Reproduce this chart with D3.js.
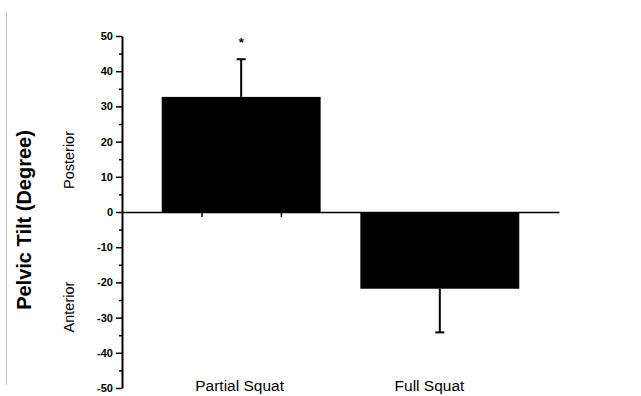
<!DOCTYPE html>
<html><head><meta charset="utf-8">
<script src="https://cdn.jsdelivr.net/npm/d3@7/dist/d3.min.js"></script>
<style>body{margin:0;background:#fff}svg{display:block}</style>
</head><body>
<script>
const categories = ["Partial Squat", "Full Squat"];
const means = [32.7, -21.8];
const errors = [10.7, 12.4];
const significance = ["*", ""];
const yTicks = [-50, -40, -30, -20, -10, 0, 10, 20, 30, 40, 50];
const xTickValues = [1, 2];
const barCenters = [1.5, 4.0];
const labelCenters = [1.48, 3.87];

const W = 641, H = 396;
const svg = d3.select("body").append("svg").attr("width", W).attr("height", H);
const font = "Liberation Sans, Arial, sans-serif";

const x = d3.scaleLinear().domain([0, 5.5]).range([122, 559]);
const y = d3.scaleLinear().domain([-50, 50]).range([388, 36]);
const barW = x(2) - x(0);

// left grey border line
svg.append("line").attr("x1", 6.5).attr("x2", 6.5).attr("y1", 12).attr("y2", 385)
  .attr("stroke", "#c8c8c8").attr("stroke-width", 1);

// bars
svg.selectAll("rect.bar").data(means).join("rect")
  .attr("x", (d, i) => x(barCenters[i]) - barW / 2)
  .attr("width", barW)
  .attr("y", d => Math.min(y(d), y(0)))
  .attr("height", d => Math.abs(y(d) - y(0)))
  .attr("fill", "#000");

// error bars
means.forEach((m, i) => {
  const cx = x(barCenters[i]);
  const end = m + Math.sign(m) * errors[i];
  svg.append("line").attr("x1", cx).attr("x2", cx).attr("y1", y(m)).attr("y2", y(end))
    .attr("stroke", "#000").attr("stroke-width", 2);
  svg.append("line").attr("x1", cx - 4.5).attr("x2", cx + 4.5).attr("y1", y(end)).attr("y2", y(end))
    .attr("stroke", "#000").attr("stroke-width", 2);
  if (significance[i]) {
    svg.append("text").attr("x", cx).attr("y", y(end) - 12)
      .attr("text-anchor", "middle").attr("font-family", font).attr("font-size", 13)
      .attr("font-weight", "bold").text(significance[i]);
  }
});

// y axis minor ticks
const minor = d3.range(-45, 50, 10);
svg.append("g").attr("transform", "translate(122,0)")
  .call(d3.axisLeft(y).tickValues(minor).tickSize(3).tickFormat(""))
  .call(g => g.select(".domain").remove())
  .selectAll("line").attr("stroke-width", 1.5);

// y axis
const yAxis = svg.append("g").attr("transform", "translate(122,0)")
  .call(d3.axisLeft(y).tickValues(yTicks).tickSize(6).tickSizeOuter(0).tickPadding(3)
    .tickFormat(d => String(d)));
yAxis.select(".domain").attr("stroke-width", 2);
yAxis.selectAll(".tick line").attr("stroke-width", 1.5);
yAxis.selectAll("text").attr("font-family", font).attr("font-size", 11)
  .attr("font-weight", "bold").attr("fill", "#000");

// zero line with x ticks
const xAxis = svg.append("g").attr("transform", `translate(0,${y(0)})`)
  .call(d3.axisBottom(x).tickValues(xTickValues).tickSize(5).tickSizeOuter(0).tickFormat(""));
xAxis.select(".domain").attr("stroke-width", 1.5);
xAxis.selectAll(".tick line").attr("stroke-width", 1.5);

// category labels
svg.selectAll("text.cat").data(categories).join("text")
  .attr("x", (d, i) => x(labelCenters[i])).attr("y", 391)
  .attr("text-anchor", "middle").attr("font-family", font).attr("font-size", 15.5)
  .attr("fill", "#000").text(d => d);

// y title
svg.append("text").attr("transform", "translate(31,220) rotate(-90)")
  .attr("text-anchor", "middle").attr("font-family", font).attr("font-size", 20)
  .attr("font-weight", "bold").attr("fill", "#000").text("Pelvic Tilt (Degree)");

svg.append("text").attr("transform", "translate(74,160) rotate(-90)")
  .attr("text-anchor", "middle").attr("font-family", font).attr("font-size", 14.5)
  .attr("fill", "#000").text("Posterior");
svg.append("text").attr("transform", "translate(74,307) rotate(-90)")
  .attr("text-anchor", "middle").attr("font-family", font).attr("font-size", 14.5)
  .attr("fill", "#000").text("Anterior");
</script>
</body></html>
